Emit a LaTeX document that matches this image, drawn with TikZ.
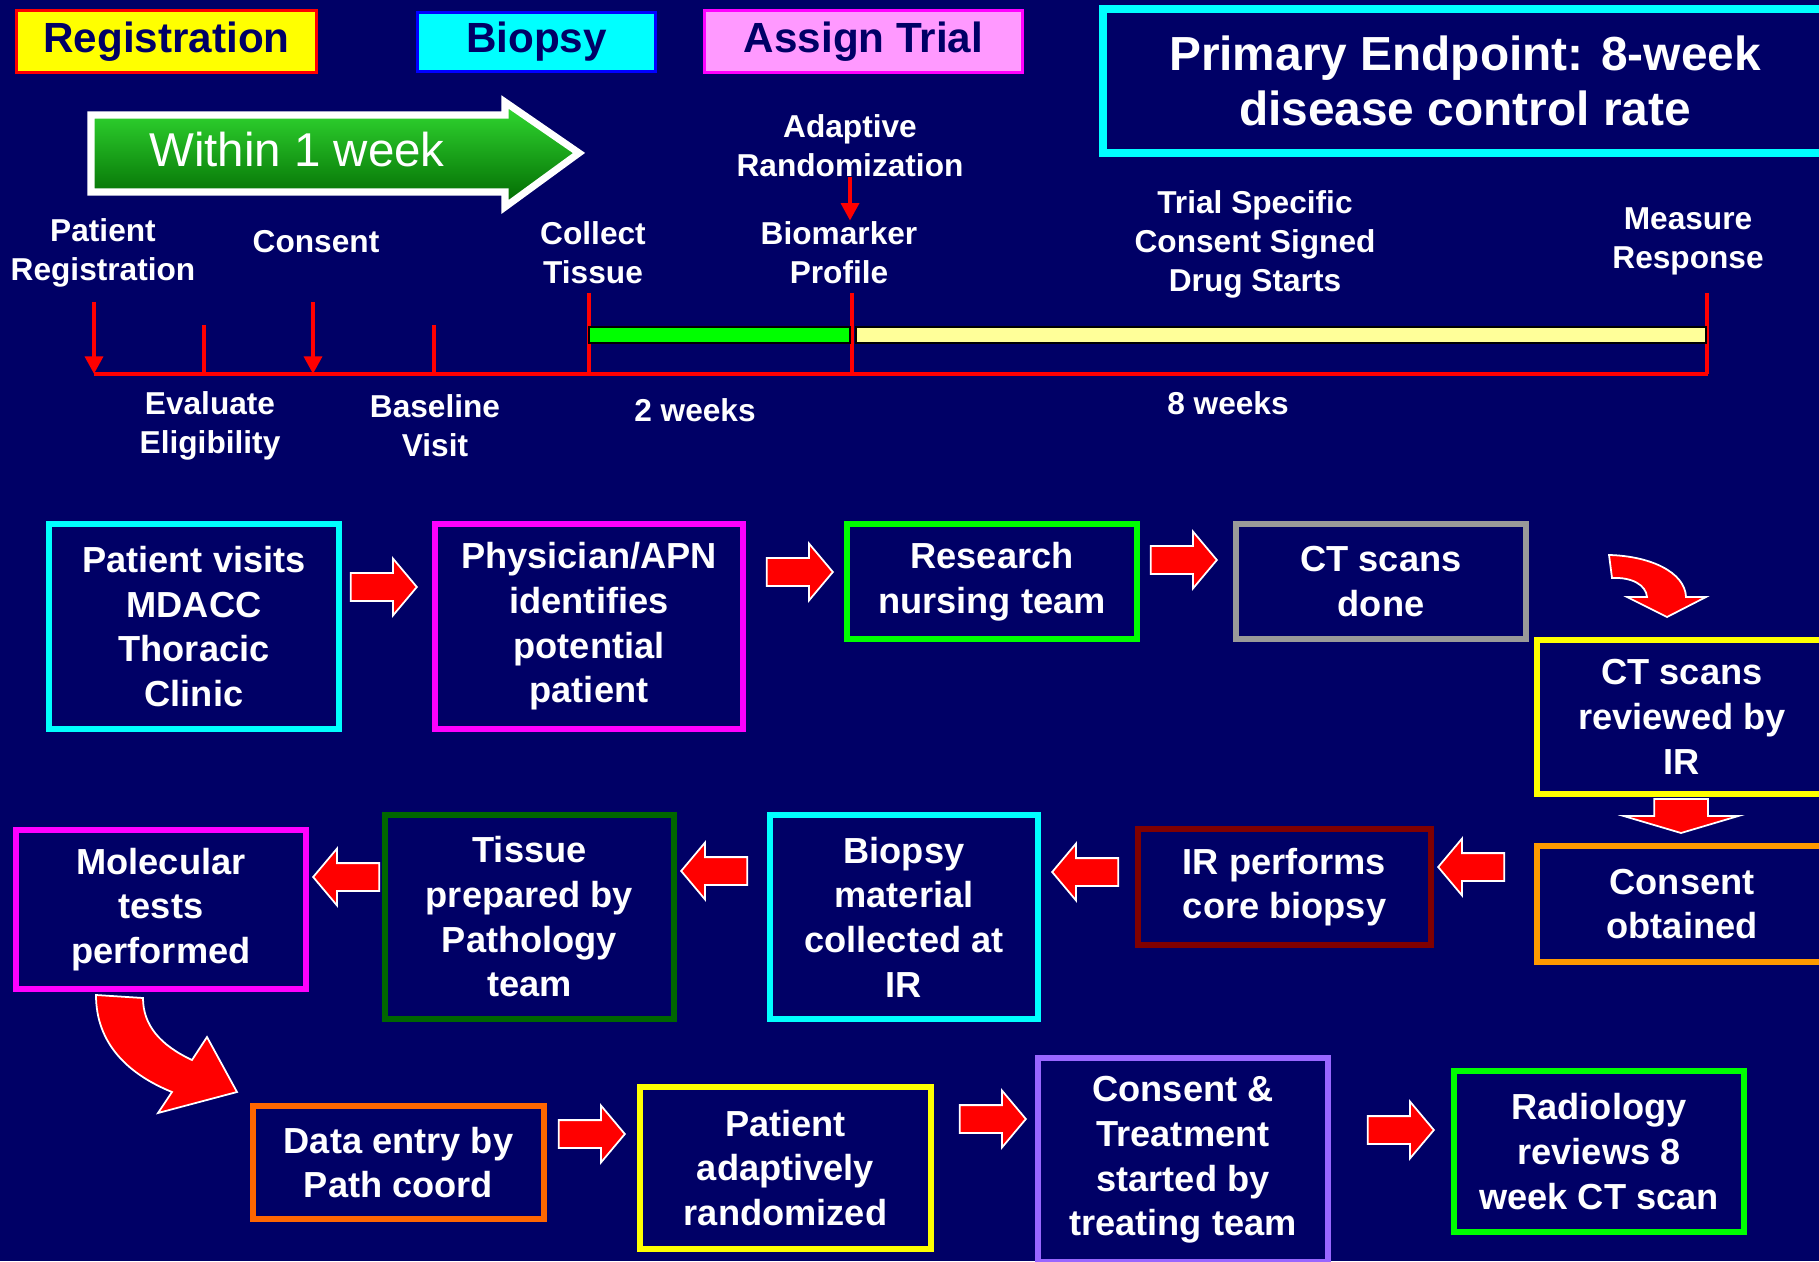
\documentclass[tikz,border=0pt]{standalone}
\usepackage{fontspec}
\setmainfont{Liberation Sans}
\usepackage{xcolor}
\usepackage{tikz}
\usetikzlibrary{positioning, arrows.meta, shapes.arrows, calc}
\definecolor{slidebg}{HTML}{000066}
\definecolor{regyellow}{HTML}{FFFF00}
\definecolor{biocyan}{HTML}{00FFFF}
\definecolor{trialpink}{HTML}{FF99FF}
\definecolor{boxmagenta}{HTML}{FF00FF}
\definecolor{boxgreen}{HTML}{00FF00}
\definecolor{boxgrey}{HTML}{999999}
\definecolor{boxorange}{HTML}{FF9900}
\definecolor{boxdarkred}{HTML}{800000}
\definecolor{boxdarkgreen}{HTML}{006600}
\definecolor{boxrust}{HTML}{FF6600}
\definecolor{boxlilac}{HTML}{9966FF}
\definecolor{barlemon}{HTML}{FFFF99}
\definecolor{weektop}{HTML}{33DD33}
\definecolor{weekmid}{HTML}{109A10}
\definecolor{weekbot}{HTML}{006600}
\newcommand{\boxfont}{\bfseries\fontsize{10.3}{12.7}\selectfont}
\newcommand{\tickfont}{\bfseries\fontsize{9}{11.1}\selectfont}
\tikzset{
  flowbox/.style={draw=#1, line width=1.7pt, fill=slidebg, text=white, font=\boxfont,
                  align=center, inner sep=0pt},
  phasebox/.style={fill=#1, line width=0.8pt, text=slidebg, inner sep=0pt,
                   font=\bfseries\fontsize{12}{14}\selectfont},
  ticklabel/.style={text=white, font=\tickfont, align=center, inner sep=0pt},
  rarrow/.style={single arrow, fill=red, draw=white, line width=0.5pt,
                 inner xsep=0pt, inner ysep=0.13cm,
                 minimum height=0.66cm, minimum width=0.55cm,
                 single arrow head extend=0.145cm, single arrow tip angle=100},
  larrow/.style={rarrow, rotate=180},
  eventarrow/.style={red, line width=1.3pt, -{Triangle[length=5pt, width=5pt]}},
  tickline/.style={red, line width=1pt}
}

\begin{document}
\begin{tikzpicture}[x=0.01cm, y=-0.01cm]
  \useasboundingbox (0,0) rectangle (1819,1261);
  \clip (0,0) rectangle (1819,1261);
  \fill[slidebg] (0,0) rectangle (1819,1261);

  % phase labels
  \node[phasebox=regyellow, draw=red, minimum width=3.00cm, minimum height=0.62cm] (reg) at (166.5,41.5) {Registration};
  \node[phasebox=biocyan, draw=blue, minimum width=2.38cm, minimum height=0.59cm] (bio) at (536.5,42) {Biopsy};
  \node[phasebox=trialpink, draw=boxmagenta, minimum width=3.18cm, minimum height=0.62cm] (asg) at (863.5,41.5) {Assign Trial};
  \node[draw=biocyan, line width=2.3pt, fill=slidebg, text=white, align=center, inner sep=0pt,
        minimum width=7.24cm, minimum height=1.44cm, font=\bfseries\fontsize{13.6}{15.6}\selectfont]
        (endpt) at (1465,81) {Primary Endpoint: 8-week\\disease control rate};

  % within 1 week
  \path[draw=white, line width=2pt, top color=weektop, middle color=weekmid, bottom color=weekbot]
    (91,115) -- (505,115) -- (505,102) -- (579,153) -- (505,207) -- (505,192) -- (91,192) -- cycle;
  \node[text=white, font=\fontsize{13.5}{16}\selectfont] (wk) at (297,150) {Within 1 week};

  % timeline
  \node[ticklabel] (ladapt) at (850,145.5) {Adaptive\\Randomization};
  \node[ticklabel] (lreg) at (103,252.5) {Patient\\Registration};
  \node[ticklabel] (lcons) at (316,242) {Consent};
  \node[ticklabel] (lcoll) at (593,252.5) {Collect\\Tissue};
  \node[ticklabel] (lbiom) at (839,252.5) {Biomarker\\Profile};
  \node[ticklabel] (ltrial) at (1255,244) {Trial Specific\\Consent Signed\\Drug Starts};
  \node[ticklabel] (lmeas) at (1688,241) {Measure\\Response};
  \node[ticklabel] (leval) at (210,426) {Evaluate\\Eligibility};
  \node[ticklabel] (lbase) at (435,426) {Baseline\\Visit};
  \node[ticklabel] (l2wk) at (695,410) {2 weeks};
  \node[ticklabel] (l8wk) at (1228,403) {8 weeks};
  \draw[eventarrow] (ladapt.south) -- (ladapt.south |- lbiom.north);

  \coordinate (tstart) at (94,374);
  \coordinate (tend) at (1708,374);
  \draw[red, line width=1.3pt] (tstart) -- (tend);
  \draw[eventarrow] (94,302) -- (tstart);
  \draw[eventarrow] (313,302) -- (313,374);
  \draw[tickline] (204,325) -- (204,374);
  \draw[tickline] (434,325) -- (434,374);
  \draw[tickline] (589,293) -- (589,374);
  \draw[tickline] (852,293) -- (852,374);
  \draw[tickline] (1707,293) -- (1707,374);
  \draw[fill=boxgreen, line width=0.8pt] (589,327) rectangle (850,343);
  \draw[fill=barlemon, line width=0.8pt] (856,327) rectangle (1706,343);

  % flow row 1
  \node[flowbox=biocyan, minimum width=2.90cm, minimum height=2.05cm] (visit) at (194,626.5) {Patient visits\\MDACC\\Thoracic\\Clinic};
  \node[flowbox=boxmagenta, minimum width=3.08cm, minimum height=2.05cm] (identify) at (589,626.5) {Physician/APN\\identifies\\potential\\patient};
  \node[flowbox=boxgreen, minimum width=2.90cm, minimum height=1.15cm] (nursing) at (992,581.5) {Research\\nursing team};
  \node[flowbox=boxgrey, minimum width=2.90cm, minimum height=1.15cm] (ctdone) at (1381,581.5) {CT scans\\done};
  \node[flowbox=regyellow, minimum width=2.90cm, minimum height=1.54cm] (ctreview) at (1682,717) {CT scans\\reviewed by\\IR};
  \node[flowbox=boxorange, minimum width=2.90cm, minimum height=1.16cm] (consent) at (1682,904) {Consent\\obtained};

  % flow row 2
  \node[flowbox=boxdarkred, minimum width=2.93cm, minimum height=1.16cm] (corebx) at (1284.5,887) {IR performs\\core biopsy};
  \node[flowbox=biocyan, minimum width=2.68cm, minimum height=2.04cm] (biomat) at (904,917) {Biopsy\\material\\collected at\\IR};
  \node[flowbox=boxdarkgreen, minimum width=2.89cm, minimum height=2.04cm] (tissue) at (529.5,917) {Tissue\\prepared by\\Pathology\\team};
  \node[flowbox=boxmagenta, minimum width=2.90cm, minimum height=1.59cm] (moltest) at (161,909.5) {Molecular\\tests\\performed};

  % flow row 3
  \node[flowbox=boxrust, minimum width=2.91cm, minimum height=1.13cm] (dataentry) at (398.5,1162.5) {Data entry by\\Path coord};
  \node[flowbox=regyellow, minimum width=2.91cm, minimum height=1.62cm] (randomize) at (785.5,1168) {Patient\\adaptively\\randomized};
  \node[flowbox=boxlilac, minimum width=2.90cm, minimum height=2.04cm] (treat) at (1183,1160) {Consent \&\\Treatment\\started by\\treating team};
  \node[flowbox=boxgreen, minimum width=2.90cm, minimum height=1.61cm] (radreview) at (1599,1151.5) {Radiology\\reviews 8\\week CT scan};

  % block arrows
  \node[rarrow] (a1) at (378,587) {};
  \node[rarrow] (a2) at (794,572) {};
  \node[rarrow] (a3) at (1178,560) {};
  \filldraw[fill=red, draw=white, line width=0.5pt]
    (1609,555) .. controls (1650,556) and (1685,572) .. (1686,597) -- (1706,597) -- (1667,617)
    -- (1627,597) -- (1647,597) .. controls (1646,585) and (1632,577) .. (1612,578) -- cycle;
  \node[rarrow, rotate=-90, inner ysep=0.26cm, minimum height=0.34cm, minimum width=1.13cm,
        single arrow head extend=0.305cm, single arrow tip angle=147] (dn) at (1681,812) {};
  \node[larrow] (b1) at (1477,867) {};
  \node[larrow] (b2) at (1091,872) {};
  \node[larrow] (b3) at (720,871) {};
  \node[larrow] (b4) at (352,877) {};
  \filldraw[fill=red, draw=white, line width=0.5pt]
    (96,995) .. controls (96,1045) and (130,1075) .. (172,1092) -- (158,1113) -- (237,1092)
    -- (207,1037) -- (192,1060) .. controls (160,1045) and (143,1025) .. (143,998) -- cycle;
  \node[rarrow] (c1) at (586,1134) {};
  \node[rarrow] (c2) at (987,1119) {};
  \node[rarrow] (c3) at (1395,1130) {};
\end{tikzpicture}
\end{document}
